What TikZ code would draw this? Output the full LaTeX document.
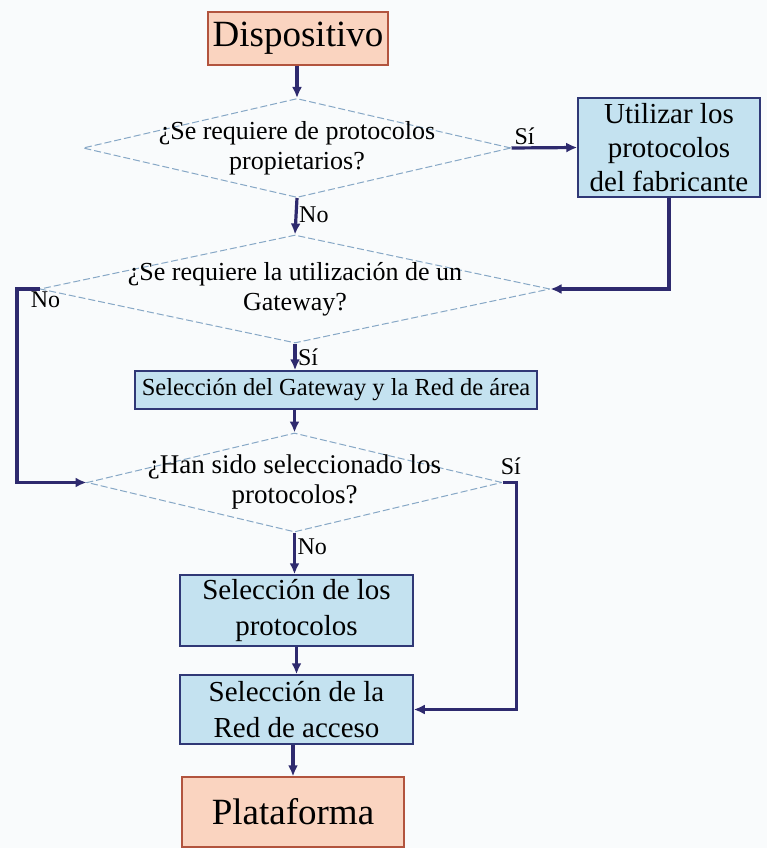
\documentclass[tikz,border=0pt]{standalone}
\usepackage{fontspec}
\setmainfont{Liberation Serif}
\usetikzlibrary{arrows.meta,positioning,shapes.geometric}
\definecolor{salmon}{RGB}{250,212,192}
\definecolor{ladrillo}{RGB}{178,84,62}
\definecolor{celeste}{RGB}{196,226,240}
\definecolor{marino}{RGB}{48,56,118}
\definecolor{flecha}{RGB}{46,42,110}
\definecolor{rombo}{RGB}{135,168,198}
\definecolor{fondo}{RGB}{249,251,252}
\tikzset{>={Latex[length=11pt,width=10pt]}}
\tikzset{terminal/.style={draw=ladrillo, fill=salmon, line width=1.3pt, inner sep=0pt, font=\fontsize{37}{40}\selectfont}}
\tikzset{proceso/.style={draw=marino, fill=celeste, line width=1.5pt, inner sep=0pt, align=center, font=\fontsize{29}{36}\selectfont}}
\tikzset{decision/.style={diamond, draw=rombo, line width=1pt, dash pattern=on 7pt off 3pt, inner sep=0pt}}
\tikzset{pregunta/.style={align=center, inner sep=0pt, font=\fontsize{26}{30}\selectfont}}
\tikzset{flujo/.style={->, draw=flecha, line width=3.2pt}}
\tikzset{etiqueta/.style={inner sep=1.5pt, font=\fontsize{24}{26}\selectfont}}

\begin{document}
\begin{tikzpicture}[x=1pt,y=-1pt]
  \fill[fondo] (0,0) rectangle (767,848);
  \useasboundingbox (0,0) rectangle (767,848);

  \node[terminal, minimum width=180pt, minimum height=53pt] (disp) at (298,38.5) {Dispositivo};

  \node[decision, minimum width=428pt, minimum height=99pt] (d1) at (297,148) {};
  \node[pregunta] (t1) at (d1) {¿Se requiere de protocolos\\propietarios?};

  \node[proceso, minimum width=182pt, minimum height=99pt, font=\fontsize{29}{34}\selectfont] (util) at (669,147.5) {Utilizar los\\protocolos\\del fabricante};

  \node[decision, minimum width=510pt, minimum height=108pt] (d2) at (295,289) {};
  \node[pregunta] (t2) at (d2) {¿Se requiere la utilización de un\\Gateway?};

  \node[proceso, minimum width=402pt, minimum height=38pt, font=\fontsize{24.5}{28}\selectfont] (gw) at (336,390) {Selección del Gateway y la Red de área};

  \node[decision, minimum width=415pt, minimum height=99pt] (d3) at (294.5,482.5) {};
  \node[pregunta, font=\fontsize{27}{30}\selectfont] (t3) at (d3) {¿Han sido seleccionado los\\protocolos?};

  \node[proceso, minimum width=233pt, minimum height=71pt] (sel) at (296.5,610.5) {Selección de los\\protocolos};
  \node[proceso, minimum width=233pt, minimum height=69pt] (red) at (296.5,709.5) {Selección de la\\Red de acceso};

  \node[terminal, minimum width=222pt, minimum height=70pt] (plat) at (293,812) {Plataforma};

  \coordinate (izq) at (17,0);

  \draw[flujo] (disp.south -| d1.north) -- (d1.north);
  \draw[flujo] (d1.east) -- node[etiqueta, above, pos=0.2] {Sí} (util.west);
  \draw[flujo] (d1.south) -- node[etiqueta, right, pos=0.45] {No} (d2.north);
  \draw[flujo] (util.south) |- (d2.east);
  \draw[flujo] (d2.west) -- node[etiqueta, below, pos=0, xshift=6pt] {No} (d2.west -| izq) |- (d3.west);
  \draw[flujo] (d2.south) -- node[etiqueta, right, pos=0.5] {Sí} (d2.south |- gw.north);
  \draw[flujo] (d3.north |- gw.south) -- (d3.north);
  \draw[flujo] (d3.east) -- node[etiqueta, above=5pt, pos=0.6] {Sí} ++(14,0) |- (red.east);
  \draw[flujo] (d3.south) -- node[etiqueta, right, pos=0.35] {No} (d3.south |- sel.north);
  \draw[flujo] (sel.south) -- (red.north);
  \draw[flujo] (red.south -| plat.north) -- (plat.north);
\end{tikzpicture}
\end{document}
